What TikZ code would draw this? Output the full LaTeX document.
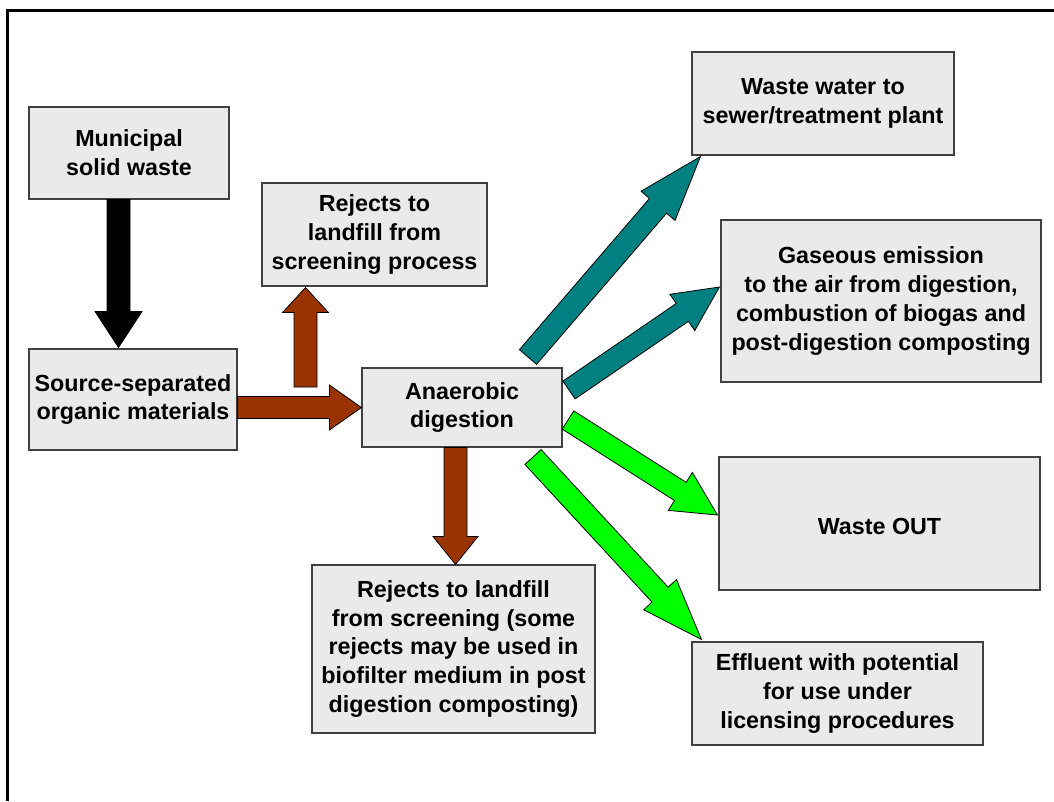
\documentclass[tikz,border=0pt]{standalone}
\usepackage{fontspec}
\setmainfont{Liberation Sans}
\usetikzlibrary{calc}
\definecolor{boxfill}{HTML}{EAEAEA}
\definecolor{rust}{HTML}{993300}
\definecolor{tealflow}{HTML}{008080}
\definecolor{limeflow}{HTML}{00FF00}

% Block arrow from tail #2 to tip #3:
% #1 style, #4 half shaft width, #5 half head width, #6 head length
\newcommand\blockarrow[6]{%
  \path ($(#3)!#6!(#2)$) coordinate (ba-neck);
  \filldraw[#1] ($(#2)!#4!90:(#3)$) -- ($(ba-neck)!#4!90:(#3)$)
    -- ($(ba-neck)!#5!90:(#3)$) -- (#3)
    -- ($(ba-neck)!#5!-90:(#3)$) -- ($(ba-neck)!#4!-90:(#3)$)
    -- ($(#2)!#4!-90:(#3)$) -- cycle;
}

\begin{document}
\begin{tikzpicture}[x=1pt,y=-1pt,
  box/.style={draw=black!75, line width=1.1pt, fill=boxfill, inner sep=0pt,
    align=center, font=\bfseries\fontsize{23.3}{28.75}\selectfont,
    execute at begin node={\rule{0pt}{23pt}}},
  flow/.style={draw=black, line width=0.8pt, line join=miter},
  blackflow/.style={flow, fill=black},
  rustflow/.style={flow, fill=rust},
  tealarrow/.style={flow, fill=tealflow},
  limearrow/.style={flow, fill=limeflow}]

\useasboundingbox (0,0) rectangle (1054,801);
\fill[white] (0,0) rectangle (1054,801);

% outer frame (left and top edges)
\draw[line width=3pt] (7.7,801) -- (7.7,10.7) -- (1054,10.7);

% boxes
\node[box, minimum width=200pt, minimum height=92pt] (msw) at (129,153)
  {Municipal\\solid waste};
\node[box, minimum width=225pt, minimum height=103pt] (rej1) at (374.5,234.5)
  {Rejects to\\landfill from\\screening process};
\node[box, minimum width=208pt, minimum height=101pt] (sso) at (133,399.5)
  {Source-separated\\organic materials};
\node[box, minimum width=200pt, minimum height=79pt] (ad) at (462,407.5)
  {Anaerobic\\digestion};
\node[box, minimum width=262pt, minimum height=103pt] (ww) at (823,103.5)
  {Waste water to\\sewer/treatment plant};
\node[box, minimum width=320pt, minimum height=162pt] (gas) at (881,301)
  {Gaseous emission\\to the air from digestion,\\combustion of biogas and\\post-digestion composting};
\node[box, minimum width=321pt, minimum height=133pt] (wo) at (879.5,523.5)
  {Waste OUT};
\node[box, minimum width=291pt, minimum height=103pt] (eff) at (837.5,693.5)
  {Effluent with potential\\for use under\\licensing procedures};
\node[box, minimum width=283pt, minimum height=168pt] (rej2) at (453.5,649)
  {Rejects to landfill\\from screening (some\\rejects may be used in\\biofilter medium in post\\digestion composting)};

% arrow ends
\coordinate (a1t) at ($(msw.south)+(-10.5,0)$);
\coordinate (a1h) at ($(sso.north)+(-14.5,-1)$);
\coordinate (a2t) at ($(sso.east)+(0,8)$);
\coordinate (a2h) at (ad.west);
\coordinate (a3t) at (305.5,387);
\coordinate (a3h) at ($(rej1.south)+(-69,1)$);
\coordinate (a4t) at ($(ad.south)+(-6.5,0)$);
\coordinate (a4h) at ($(rej2.north)+(2,0)$);
\coordinate (a5t) at (528,357);
\coordinate (a5h) at ($(ww.south west)+(9,1)$);
\coordinate (a6t) at (569,390);
\coordinate (a6h) at ($(gas.west)+(-1,-14)$);
\coordinate (a7t) at (568,420);
\coordinate (a7h) at ($(wo.west)+(-1,-8.5)$);
\coordinate (a8t) at (533,457);
\coordinate (a8h) at ($(eff.north west)+(10,-2)$);

% flows
\blockarrow{blackflow}{a1t}{a1h}{11.5pt}{23.5pt}{36pt}
\blockarrow{rustflow}{a2t}{a2h}{11pt}{22.5pt}{32pt}
\blockarrow{rustflow}{a3t}{a3h}{11.5pt}{23pt}{25pt}
\blockarrow{rustflow}{a4t}{a4h}{11.5pt}{22.5pt}{28pt}
\blockarrow{tealarrow}{a5t}{a5h}{11.3pt}{22.4pt}{65pt}
\blockarrow{tealarrow}{a6t}{a6h}{10.8pt}{22pt}{45pt}
\blockarrow{limearrow}{a7t}{a7h}{10.8pt}{22.5pt}{44pt}
\blockarrow{limearrow}{a8t}{a8h}{11pt}{22.3pt}{61pt}

\end{tikzpicture}
\end{document}
